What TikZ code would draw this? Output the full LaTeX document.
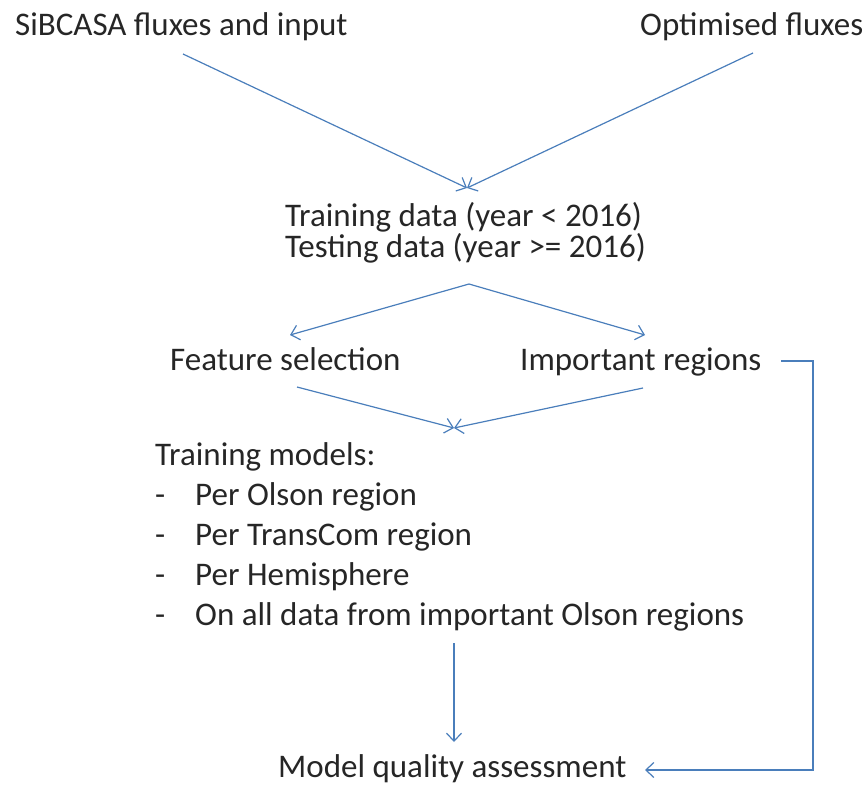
\documentclass[tikz,border=0pt]{standalone}
\usepackage{fontspec}
\setmainfont{Carlito}
\usetikzlibrary{arrows.meta}
\definecolor{flowblue}{HTML}{4A7EBB}
\tikzset{
  txt/.style={anchor=base west,inner sep=0pt,font=\fontsize{33}{36}\selectfont,text=black!85},
  flow/.style={draw=flowblue,line width=1.2pt,-{Straight Barb[length=8pt,width=15pt]}},
  link/.style={draw=flowblue,line width=1.2pt}
}
\begin{document}
\begin{tikzpicture}[x=1pt,y=-1pt]
				\useasboundingbox (0,0) rectangle (868,787);
				\node[txt] (sib) at (15,35) {SiBCASA fluxes and input};
				\node[txt] (opt) at (640,35) {Optimised fluxes};
				\node[txt] (train) at (285,226) {Training data (year < 2016)};
				\node[txt] (test) at (285,257) {Testing data (year >= 2016)};
				\node[txt] (feat) at (170,370) {Feature selection};
				\node[txt] (imp) at (520,370) {Important regions};
				\node[txt] (models) at (155,465) {Training models:};
				\node[txt] (d1) at (155,505) {-};
				\node[txt] (m1) at (195,505) {Per Olson region};
				\node[txt] (d2) at (155,545) {-};
				\node[txt] (m2) at (195,545) {Per TransCom region};
				\node[txt] (d3) at (155,585) {-};
				\node[txt] (m3) at (195,585) {Per Hemisphere};
				\node[txt] (d4) at (155,625) {-};
				\node[txt] (m4) at (195,625) {On all data from important Olson regions};
				\node[txt] (qual) at (278,777) {Model quality assessment};
				\coordinate (a1) at (183,54);
				\coordinate (a2) at (753,53);
				\coordinate (merge) at (467,188);
				\coordinate (fork) at (469,284);
				\coordinate (f1) at (290,335);
				\coordinate (f2) at (645,335);
				\coordinate (b1) at (297,387);
				\coordinate (b2) at (643,388);
				\coordinate (join) at (454,428);
				\coordinate (c1) at (454,643);
				\coordinate (c2) at (454,742);
				\coordinate (r0) at (781,361);
				\coordinate (r1) at (813,361);
				\coordinate (r2) at (813,770);
				\coordinate (r3) at (645,770);
				\draw[flow] (a1) -- (merge);
				\draw[flow] (a2) -- (merge);
				\draw[flow] (fork) -- (f1);
				\draw[flow] (fork) -- (f2);
				\draw[flow] (b1) -- (join);
				\draw[flow] (b2) -- (join);
				\draw[flow] (c1) -- (c2);
				\draw[flow] (r0) -- (r1) -- (r2) -- (r3);
			\end{tikzpicture}
\end{document}
